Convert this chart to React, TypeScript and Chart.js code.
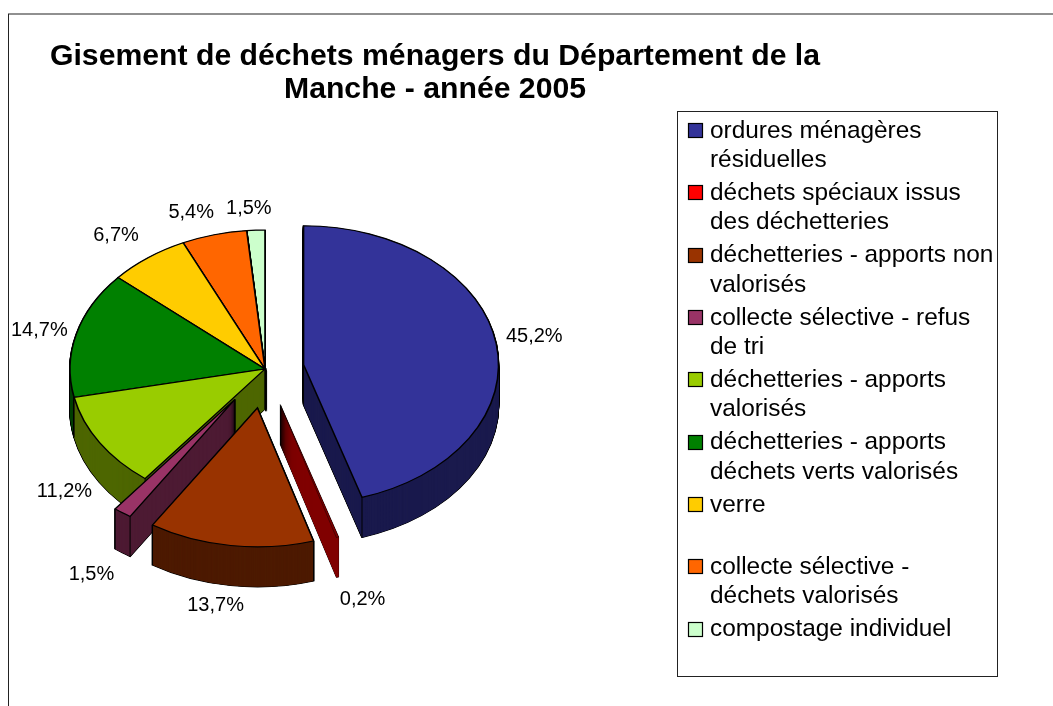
import React, { useEffect, useRef } from "react";
import { Chart, registerables } from "chart.js";

Chart.register(...registerables);

const categories = [
  "ordures ménagères résiduelles",
  "déchets spéciaux issus des déchetteries",
  "déchetteries - apports non valorisés",
  "collecte sélective - refus de tri",
  "déchetteries - apports valorisés",
  "déchetteries - apports déchets verts valorisés",
  "verre",
  "collecte sélective - déchets valorisés",
  "compostage individuel",
];
const shares = [45.2, 0.2, 13.7, 1.5, 11.2, 14.7, 6.7, 5.4, 1.5];
const topColors = ["#333399", "#ff0000", "#993300", "#993366", "#99cc00", "#008000", "#ffcc00", "#ff6600", "#ccffcc"];
const sideColors = ["#1a1a4d", "#800000", "#4d1a00", "#4d1a33", "#4d6600", "#004000", "#806600", "#803300", "#668066"];
const explode = [39, 52, 55, 52, 0, 0, 0, 0, 0];
const paintOrder = [8, 7, 6, 5, 4, 0, 3, 1, 2];
const legendLines = [
  ["ordures ménagères", "résiduelles"],
  ["déchets spéciaux issus", "des déchetteries"],
  ["déchetteries - apports non", "valorisés"],
  ["collecte sélective - refus", "de tri"],
  ["déchetteries - apports", "valorisés"],
  ["déchetteries - apports", "déchets verts valorisés"],
  ["verre", ""],
  ["collecte sélective -", "déchets valorisés"],
  ["compostage individuel"],
];
const labelShiftX = [38, 25, -15, -31, -35, -37, -32, -23, -7];
const labelShiftY = [-7, 62, 60, 62, 49, -3, -22, -22, -22];
const titleLines = ["Gisement de déchets ménagers du Département de la", "Manche - année 2005"];

const TILT = 0.7128;
const DEPTH = 40;
const FONT = '"Liberation Sans", Arial, sans-serif';

const pie3d = {
  id: "pie3d",
  afterLayout(chart: any) {
    const t = chart.titleBlock;
    if (t) {
      t.left = 35;
      t.right = 835;
    }
  },
  beforeDraw(chart: any) {
    const { ctx, width, height } = chart;
    ctx.save();
    ctx.fillStyle = "#ffffff";
    ctx.fillRect(0, 0, width, height);
    ctx.strokeStyle = "#222222";
    ctx.lineWidth = 1;
    ctx.strokeRect(8.5, 14, width + 20, height + 20);
    ctx.restore();
  },
  beforeDatasetDraw(chart: any) {
    const { ctx } = chart;
    const arcs = chart.getDatasetMeta(0).data;
    const paint = (el: any, i: number, dy: number, fill: string, bw: number) => {
      const mid = (el.startAngle + el.endAngle) / 2;
      const saved = el.options;
      el.options = { ...saved, backgroundColor: fill, borderColor: "#000000", borderWidth: bw, borderJoinStyle: "miter" };
      ctx.save();
      ctx.translate(0, dy);
      ctx.translate(el.x, el.y);
      ctx.scale(1, TILT);
      ctx.translate(-el.x, -el.y);
      ctx.translate(Math.cos(mid) * explode[i], Math.sin(mid) * explode[i]);
      el.draw(ctx);
      ctx.restore();
      el.options = saved;
    };
    paintOrder.forEach((i) => {
      const el = arcs[i];
      const thin = i === 1;
      for (let d = DEPTH; d >= 0.5; d -= 0.5) paint(el, i, d, "#000000", thin ? 0.5 : 1.6);
      for (let d = DEPTH; d >= 0.5; d -= 0.5) paint(el, i, d, sideColors[i], 0);
      if (!thin) {
        const mid = (el.startAngle + el.endAngle) / 2;
        const ox = el.x + Math.cos(mid) * explode[i];
        const oy = el.y + Math.sin(mid) * explode[i] * TILT;
        const corners: [number, number][] = [
          [ox, oy],
          [ox + Math.cos(el.startAngle) * el.outerRadius, oy + Math.sin(el.startAngle) * el.outerRadius * TILT],
          [ox + Math.cos(el.endAngle) * el.outerRadius, oy + Math.sin(el.endAngle) * el.outerRadius * TILT],
        ];
        ctx.save();
        ctx.strokeStyle = "#000000";
        ctx.lineWidth = 1;
        corners.forEach(([x, y]) => {
          ctx.beginPath();
          ctx.moveTo(x, y);
          ctx.lineTo(x, y + DEPTH);
          ctx.stroke();
        });
        ctx.restore();
      }
      paint(el, i, 0, thin ? sideColors[1] : topColors[i], thin ? 0.5 : 1.6);
    });
    return false;
  },
  afterDraw(chart: any) {
    const { ctx } = chart;
    const arcs = chart.getDatasetMeta(0).data;
    ctx.save();
    // percentage labels
    ctx.fillStyle = "#000000";
    ctx.font = `20px ${FONT}`;
    ctx.textAlign = "center";
    ctx.textBaseline = "middle";
    arcs.forEach((el: any, i: number) => {
      const mid = (el.startAngle + el.endAngle) / 2;
      const r = el.outerRadius + explode[i];
      const x = el.x + Math.cos(mid) * r + labelShiftX[i];
      const y = el.y + Math.sin(mid) * r * TILT + labelShiftY[i];
      ctx.fillText(shares[i].toFixed(1).replace(".", ",") + "%", x, y);
    });
    // legend
    ctx.strokeStyle = "#222222";
    ctx.lineWidth = 1;
    ctx.strokeRect(677.5, 111.5, 320, 565);
    ctx.font = `24.4px ${FONT}`;
    ctx.textAlign = "left";
    legendLines.forEach((lines, i) => {
      const y = 130 + i * 62.33;
      ctx.fillStyle = topColors[i];
      ctx.fillRect(688.5, Math.round(y - 7) + 0.5, 14, 14);
      ctx.strokeStyle = "#000000";
      ctx.lineWidth = 1.2;
      ctx.strokeRect(688.5, Math.round(y - 7) + 0.5, 14, 14);
      ctx.fillStyle = "#000000";
      lines.forEach((line, j) => ctx.fillText(line, 710, y + 1 + j * 29.2));
    });
    ctx.restore();
  },
};

export default function App() {
  const ref = useRef<HTMLCanvasElement | null>(null);
  useEffect(() => {
    const chart = new Chart(ref.current as HTMLCanvasElement, {
      type: "pie",
      data: {
        labels: categories,
        datasets: [
          {
            data: shares,
            backgroundColor: topColors,
            borderColor: "#000000",
            borderWidth: 1.6,
            radius: 195,
          } as any,
        ],
      },
      options: {
        animation: false,
        responsive: false,
        layout: { padding: { left: 0, right: 523, top: 0, bottom: 74.5 } },
        plugins: {
          legend: { display: false },
          tooltip: { enabled: false },
          title: {
            display: true,
            text: titleLines,
            color: "#000000",
            font: { family: FONT, size: 30.2, weight: "bold", lineHeight: 33 / 30.2 },
            padding: { top: 40.5, bottom: 0 },
          },
        },
      },
      plugins: [pie3d],
    } as any);
    return () => chart.destroy();
  }, []);
  return (
    <div style={{ position: "fixed", left: 0, top: 0, width: 1053, height: 706 }}>
      <canvas ref={ref} width={1053} height={706} style={{ display: "block" }} />
    </div>
  );
}
